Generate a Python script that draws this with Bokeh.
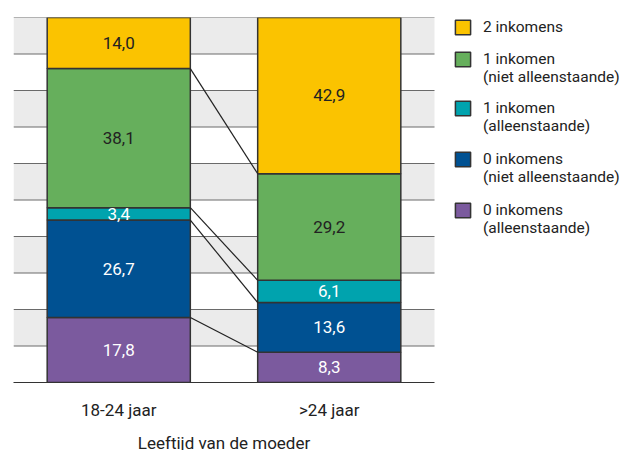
from bokeh.plotting import figure
from bokeh.models import (ColumnDataSource, Range1d, FixedTicker, Legend, LegendItem,
                          LinearAxis)
from bokeh.core.properties import value
from bokeh.embed import file_html
from bokeh.resources import INLINE
import numpy as np

categories = ["18-24 jaar", ">24 jaar"]
x_title = "Leeftijd van de moeder"
# a leading empty line keeps each swatch level with the first line of its label
legend_labels = ["\n0 inkomens\n(alleenstaande)", "\n0 inkomens\n(niet alleenstaande)",
                 "\n1 inkomen\n(alleenstaande)", "\n1 inkomen\n(niet alleenstaande)",
                 "2 inkomens"]
nul_alleen = [17.8, 8.3]
nul_niet = [26.7, 13.6]
een_alleen = [3.4, 6.1]
een_niet = [38.1, 29.2]
twee = [14.0, 42.9]
series = [nul_alleen, nul_niet, een_alleen, een_niet, twee]
colors = ["#7B5A9E", "#005192", "#00A3AE", "#66AF5C", "#FBC300"]
text_colors = ["white", "white", "white", "#222222", "#222222"]
keys = ["s0", "s1", "s2", "s3", "s4"]

FONT = "Roboto"

# layout (pixels)
FRAME_W, FRAME_H, PLOT_W = 607, 365, 421
n_cat = len(categories)
x_end = n_cat * FRAME_W / PLOT_W
xpos = [i + 0.5 for i in range(n_cat)]

data = {"x": xpos}
for k, s in zip(keys, series):
    data[k] = s
source = ColumnDataSource(data)

p = figure(x_range=Range1d(0, x_end), y_range=Range1d(0, 100),
           frame_width=FRAME_W, frame_height=FRAME_H, output_backend="svg",
           toolbar_location=None, min_border_left=13, min_border_top=17,
           min_border_bottom=60, min_border_right=0)
p.outline_line_color = None
p.xgrid.visible = False
p.ygrid.visible = False
p.yaxis.visible = False

# background bands and grid lines over the plotting area only
band_bottoms = list(range(10, 100, 20))
p.quad(left=0, right=n_cat, bottom=band_bottoms, top=[b + 10 for b in band_bottoms],
       fill_color="#EBEBEB", line_color=None)
grid_ys = list(range(10, 101, 10))
p.segment(x0=[0] * len(grid_ys), x1=[n_cat] * len(grid_ys), y0=grid_ys, y1=grid_ys,
          line_color="#6a6a6a", line_width=1)

BAR_W = 0.68
renderers = p.vbar_stack(keys, x="x", width=BAR_W, color=colors, source=source,
                         line_color="#333333", line_width=1.5)

# connecting lines between segment tops
tops = np.cumsum(np.array(series), axis=0)
seg = ColumnDataSource(dict(
    x0=[xpos[0] + BAR_W / 2] * 4, x1=[xpos[1] - BAR_W / 2] * 4,
    y0=list(tops[:4, 0]), y1=list(tops[:4, 1])))
p.segment(x0="x0", y0="y0", x1="x1", y1="y1", source=seg,
          line_color="#222222", line_width=1.2)

# value labels
mids = tops - np.array(series) / 2
lab_x, lab_y, lab_t, lab_c = [], [], [], []
for i, s in enumerate(series):
    for j in range(n_cat):
        lab_x.append(xpos[j])
        lab_y.append(float(mids[i, j]))
        lab_t.append(f"{s[j]:.1f}".replace(".", ","))
        lab_c.append(text_colors[i])
lab = ColumnDataSource(dict(x=lab_x, y=lab_y, t=lab_t, c=lab_c))
p.text(x="x", y="y", text="t", source=lab, text_color="c",
       text_align="center", text_baseline="middle",
       text_font=value(FONT), text_font_size="17px")

# x axis
xa = p.xaxis[0]
xa.ticker = FixedTicker(ticks=xpos)
xa.major_label_overrides = {xv: c for xv, c in zip(xpos, categories)}
xa.bounds = (0, n_cat)
xa.axis_line_color = "#333333"
xa.axis_line_width = 1.2
xa.major_tick_line_color = None
xa.minor_tick_line_color = None
xa.major_label_text_font = FONT
xa.major_label_text_font_size = "17px"
xa.major_label_text_color = "#222222"
xa.major_label_standoff = 11

# axis title, centred under the two bars
title_axis = LinearAxis(ticker=FixedTicker(ticks=[n_cat / 2]),
                        major_label_overrides={n_cat / 2: x_title},
                        bounds=(0, n_cat), axis_line_color=None,
                        major_tick_line_color=None, minor_tick_line_color=None,
                        major_label_text_font=FONT, major_label_text_font_size="17px",
                        major_label_text_color="#222222", major_label_standoff=4)
p.add_layout(title_axis, "below")

# legend: one block per series so each swatch sits beside its first text line
LEG_X = 440
LINE_H = 18.1
centers = [192.5, 141.5, 90.5, 41.5, 10.0]  # px below frame top, per series
for i in range(4, -1, -1):
    n_lines = legend_labels[i].count("\n") + 1
    h = max(18, n_lines * LINE_H)
    vy = FRAME_H - centers[i] - h / 2
    lg = Legend(items=[LegendItem(label=legend_labels[i], renderers=[renderers[i]])],
                location=(LEG_X, vy), border_line_color=None,
                background_fill_alpha=0, padding=0, margin=0, spacing=0,
                glyph_width=19, glyph_height=18, label_standoff=11,
                label_height=10, label_width=10,
                label_text_font=FONT, label_text_font_size="15.5px",
                label_text_color="#222222")
    p.add_layout(lg, "center")

open("out.html", "w").write(file_html(p, INLINE))
